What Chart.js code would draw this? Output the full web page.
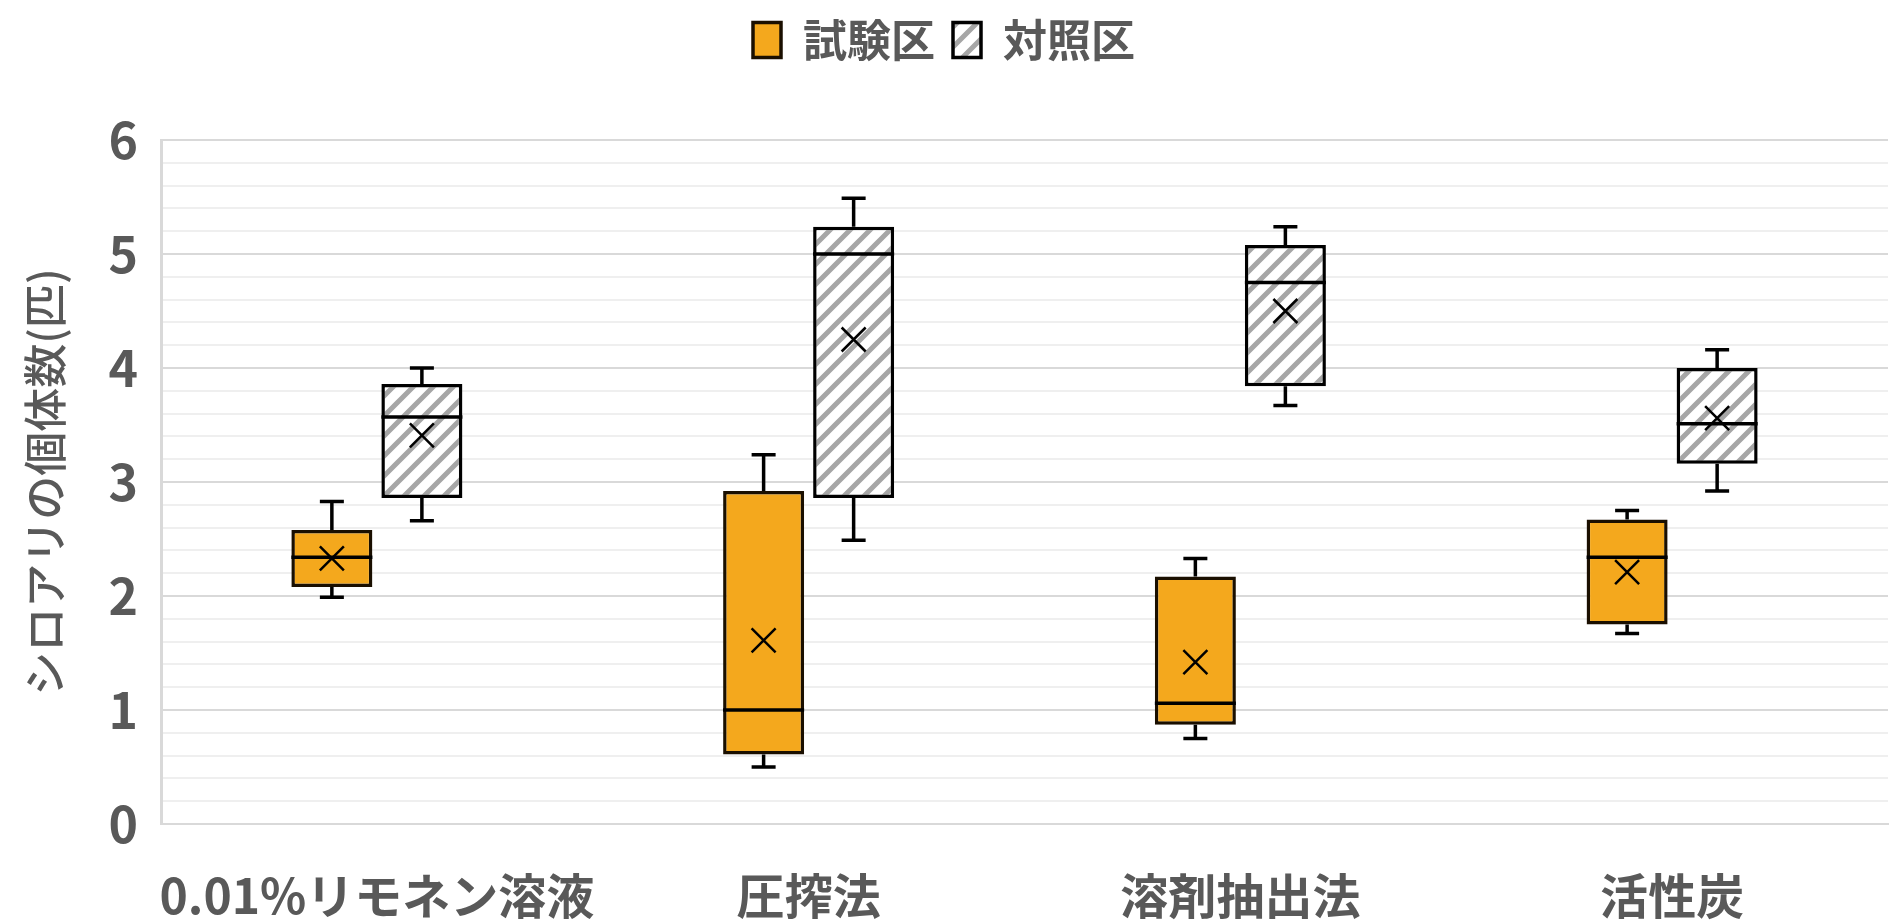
<!DOCTYPE html>
<html lang="ja">
<head>
<meta charset="utf-8">
<title>シロアリの個体数</title>
<script src="https://cdn.jsdelivr.net/npm/chart.js@4.4.1/dist/chart.umd.min.js"></script>
<style>
  html, body { margin: 0; padding: 0; background: #fff; }
  #wrap { width: 1892px; height: 923px; position: relative; }
</style>
</head>
<body>
<div id="wrap"><canvas id="chart"></canvas></div>
<script>
const categories = ["0.01%リモネン溶液", "圧搾法", "溶剤抽出法", "活性炭"];
const seriesNames = ["試験区", "対照区"];

// 試験区 (box plot summary per category)
const testMin    = [1.99, 0.50, 0.75, 1.67];
const testQ1     = [2.08, 0.61, 0.87, 1.75];
const testMedian = [2.34, 1.00, 1.06, 2.34];
const testQ3     = [2.58, 2.92, 2.17, 2.67];
const testMax    = [2.83, 3.24, 2.33, 2.75];
const testMean   = [2.33, 1.61, 1.42, 2.21];

// 対照区
const ctrlMin    = [2.66, 2.49, 3.67, 2.92];
const ctrlQ1     = [2.86, 2.86, 3.84, 3.16];
const ctrlMedian = [3.57, 5.00, 4.75, 3.51];
const ctrlQ3     = [3.86, 5.24, 5.08, 4.00];
const ctrlMax    = [4.00, 5.49, 5.24, 4.16];
const ctrlMean   = [3.41, 4.25, 4.50, 3.56];

const yMin = 0;
const yMax = 6;
const yStep = 0.2;

const TEXT = "#595959";
const ORANGE = "#F4A81D";

Chart.defaults.font.family = "'Noto Sans CJK JP', 'Noto Sans', sans-serif";
Chart.defaults.color = TEXT;

// diagonal hatch used for the control boxes
function makeHatch() {
  const c = document.createElement("canvas");
  c.width = 20; c.height = 20;
  const g = c.getContext("2d");
  g.fillStyle = "#ffffff";
  g.fillRect(0, 0, 20, 20);
  g.strokeStyle = "#a6a6a6";
  g.lineWidth = 5;
  g.beginPath();
  g.moveTo(-10, 10); g.lineTo(10, -10);
  g.moveTo(0, 20); g.lineTo(20, 0);
  g.moveTo(10, 30); g.lineTo(30, 10);
  g.stroke();
  return g.createPattern(c, "repeat");
}
const hatch = makeHatch();

const summaries = [
  { min: testMin, median: testMedian, max: testMax, mean: testMean },
  { min: ctrlMin, median: ctrlMedian, max: ctrlMax, mean: ctrlMean }
];

const isMajor = (v) => Math.abs(v - Math.round(v)) < 1e-6;

// whiskers, median line and mean cross on top of the floating bars
const boxParts = {
  id: "boxParts",
  afterDatasetsDraw(chart) {
    const ctx = chart.ctx;
    const y = chart.scales.y;
    ctx.save();
    ctx.strokeStyle = "#000";
    ctx.lineCap = "butt";
    summaries.forEach((s, di) => {
      const meta = chart.getDatasetMeta(di);
      meta.data.forEach((bar, i) => {
        const x = bar.x;
        const half = bar.width / 2;
        const top = Math.min(bar.y, bar.base);
        const bottom = Math.max(bar.y, bar.base);
        const yHi = y.getPixelForValue(s.max[i]);
        const yLo = y.getPixelForValue(s.min[i]);
        const yMed = y.getPixelForValue(s.median[i]);
        const yMean = y.getPixelForValue(s.mean[i]);

        ctx.lineWidth = 3.5;
        ctx.beginPath();
        ctx.moveTo(x, top); ctx.lineTo(x, yHi);
        ctx.moveTo(x - 12, yHi); ctx.lineTo(x + 12, yHi);
        ctx.moveTo(x, bottom); ctx.lineTo(x, yLo);
        ctx.moveTo(x - 12, yLo); ctx.lineTo(x + 12, yLo);
        ctx.moveTo(x - half, yMed); ctx.lineTo(x + half, yMed);
        ctx.stroke();

        ctx.lineWidth = 2.5;
        ctx.beginPath();
        ctx.moveTo(x - 12, yMean - 12); ctx.lineTo(x + 12, yMean + 12);
        ctx.moveTo(x - 12, yMean + 12); ctx.lineTo(x + 12, yMean - 12);
        ctx.stroke();
      });
    });
    ctx.restore();
  }
};

new Chart(document.getElementById("chart"), {
  type: "bar",
  data: {
    labels: categories,
    datasets: [
      {
        label: seriesNames[0],
        data: testQ1.map((v, i) => [v, testQ3[i]]),
        backgroundColor: ORANGE,
        borderColor: "#1a0f00",
        borderWidth: 3.5,
        borderSkipped: false,
        categoryPercentage: 0.417,
        barPercentage: 0.9
      },
      {
        label: seriesNames[1],
        data: ctrlQ1.map((v, i) => [v, ctrlQ3[i]]),
        backgroundColor: hatch,
        borderColor: "#000000",
        borderWidth: 3.5,
        borderSkipped: false,
        categoryPercentage: 0.417,
        barPercentage: 0.9
      }
    ]
  },
  options: {
    responsive: true,
    maintainAspectRatio: false,
    animation: false,
    layout: { padding: { left: 0, right: 4, top: 0, bottom: 0 } },
    plugins: {
      legend: {
        position: "top",
        labels: {
          boxWidth: 28,
          boxHeight: 35,
          padding: 18,
          color: TEXT,
          font: { size: 44, weight: "bold" }
        }
      },
      // empty title used as spacing between legend and plot
      title: {
        display: true,
        text: "",
        weight: 500,
        font: { size: 10 },
        padding: { top: 56, bottom: 0 }
      },
      tooltip: { enabled: false }
    },
    scales: {
      x: {
        grid: { display: false, drawTicks: false },
        border: { display: true, color: "#d9d9d9", width: 2 },
        ticks: {
          color: TEXT,
          padding: 43,
          maxRotation: 0,
          minRotation: 0,
          autoSkip: false,
          font: { size: 48, weight: "bold" }
        },
        afterFit: (scale) => {
          scale.height = 99;
          scale.paddingLeft = 0;
          scale.paddingRight = 0;
        }
      },
      y: {
        min: yMin,
        max: yMax,
        grid: {
          drawTicks: false,
          lineWidth: 2,
          color: (c) => isMajor(c.tick.value) ? "#d9d9d9" : "#efefef"
        },
        border: { display: true, color: "#d9d9d9", width: 3 },
        ticks: {
          stepSize: yStep,
          autoSkip: false,
          padding: 23,
          color: TEXT,
          font: { size: 50, weight: "bold" },
          callback: (v) => isMajor(v) ? String(Math.round(v)) : ""
        },
        title: {
          display: true,
          text: "シロアリの個体数(匹)",
          color: TEXT,
          font: { size: 44, weight: "500" },
          padding: { top: 19, bottom: 0 }
        },
        afterFit: (scale) => {
          scale.width = 161;
          scale.paddingTop = 0;
          scale.paddingBottom = 0;
        }
      }
    }
  },
  plugins: [boxParts]
});
</script>
</body>
</html>
